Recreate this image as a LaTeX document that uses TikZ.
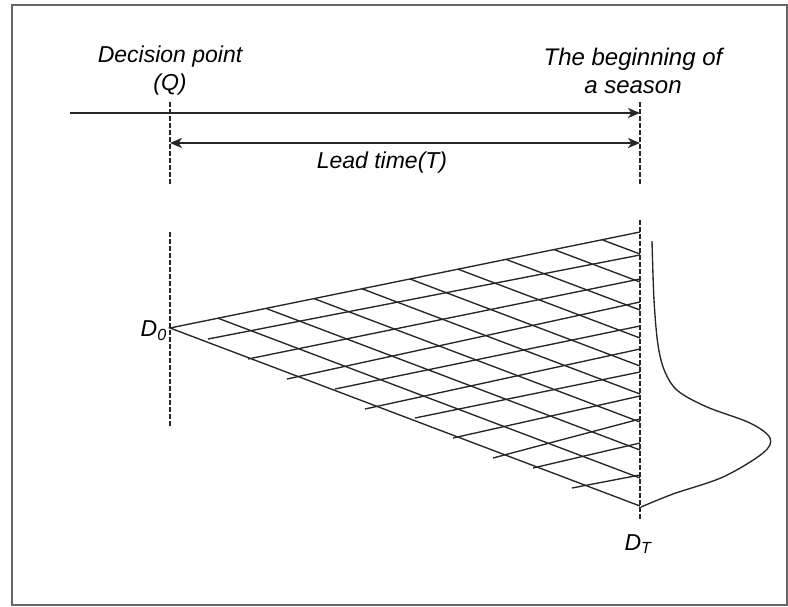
\documentclass[tikz,border=0pt]{standalone}
\usepackage{fontspec}
\setmainfont{Liberation Sans}
\usetikzlibrary{arrows.meta}
\begin{document}
\begin{tikzpicture}[x=1pt,y=-1pt,
  vdash/.style={line width=2.4pt,dash pattern=on 4.5pt off 2.5pt,black!85},
  grid/.style={line width=1.35pt,black!85},
  tip/.style={},
  arr/.style={line width=2.1pt,black!85,-{Stealth[length=12pt,width=10pt,inset=3.5pt]}},
  lbl/.style={font=\fontsize{23}{28}\selectfont\itshape,align=center,inner sep=0pt}]
\useasboundingbox (0,0) rectangle (788,606);
\draw[line width=1.5pt,black!60] (12,5) rectangle (787,605);

% labels
\node[lbl] (dp) at (170,71) {Decision point\\(Q)};
\node[lbl,font=\fontsize{24}{28}\selectfont\itshape] (bs) at (633,71) {The beginning of\\a season};
\node[lbl] (lt) at (382,163) {Lead time(T)};

% vertical dashed markers
\coordinate (q1) at (170,102); \coordinate (q2) at (170,184);
\coordinate (s1) at (640,102); \coordinate (s2) at (640,184);
\coordinate (q3) at (170,232); \coordinate (q4) at (170,426);
\coordinate (s3) at (640,220); \coordinate (s4) at (640,520);
\draw[vdash] (q1) -- (q2);
\draw[vdash] (s1) -- (s2);
\draw[vdash] (q3) -- (q4);
\draw[vdash] (s3) -- (s4);

% arrows
\coordinate (a0) at (70,113); \coordinate (a1) at (640,113);
\coordinate (b0) at (170,143); \coordinate (b1) at (640,143);
\draw[arr] (a0) -- (a1);
\draw[arr,{Stealth[length=12pt,width=10pt,inset=3.5pt]}-{Stealth[length=12pt,width=10pt,inset=3.5pt]}] (b0) -- (b1);

% lattice
\coordinate (d0) at (170,328);
\coordinate (top) at (640,232);
\coordinate (bot) at (640,506);
\draw[grid] (top) -- (d0) -- (bot);
\foreach \sx/\sy/\ey in {208/339/255, 248/359/279, 287/379/302, 335/389/326, 365/409/349,
                         415/418/372, 453/438/396, 493/458/419, 533/468/443, 572/488/475}{
  \draw[grid] (\sx,\sy) -- (640,\ey);
}
\foreach \k in {1,...,9}{
  \pgfmathsetmacro{\tx}{170+48*\k}
  \pgfmathsetmacro{\ty}{328-0.2043*48*\k}
  \pgfmathsetmacro{\ey}{506-28*\k}
  \draw[grid] (\tx,\ty) -- (640,\ey);
}

% distribution curve
\draw[line width=1.35pt,black!85] plot[smooth,tension=0.55] coordinates
  {(652,241) (654,300) (658,345) (665,372) (678,391) (707,407) (750,423) (770,438)
   (763,453) (723,477) (673,494) (641,507)};

% D labels
\node[font=\fontsize{23}{26}\selectfont\itshape,anchor=east,inner sep=0pt] (dz) at (167,331) {D\textsubscript{0}};
\node[font=\fontsize{23}{26}\selectfont\itshape,inner sep=0pt] (dt) at (638,544) {D\textsubscript{T}};
\end{tikzpicture}
\end{document}
